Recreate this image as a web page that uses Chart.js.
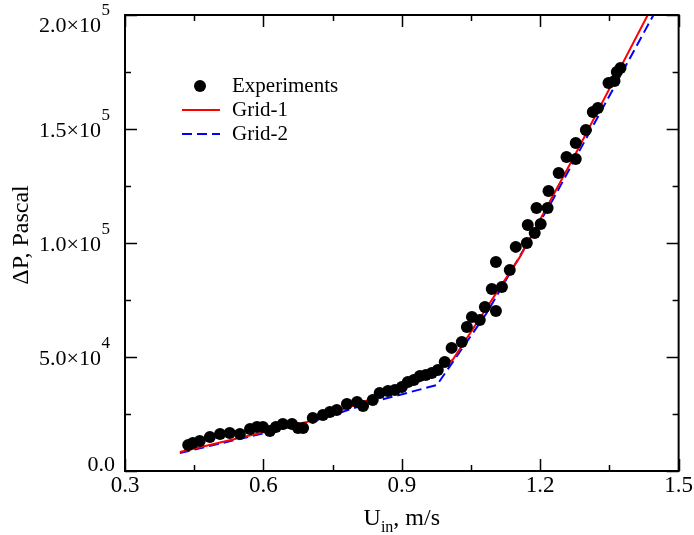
<!DOCTYPE html>
<html>
<head>
<meta charset="utf-8">
<script src="https://cdn.jsdelivr.net/npm/chart.js@4"></script>
<style>
  html, body { margin: 0; padding: 0; background: #fff; }
  canvas { display: block; }
</style>
</head>
<body>
<canvas id="chart" width="694" height="535"></canvas>
<script>
// experiments: inlet velocity (m/s) vs pressure drop (Pa)
const expU = [0.437, 0.447, 0.462, 0.484, 0.506, 0.527, 0.549, 0.571, 0.586, 0.599, 0.614, 0.627, 0.642, 0.662, 0.675, 0.686,
  0.707, 0.729, 0.744, 0.759, 0.781, 0.803, 0.816, 0.837, 0.852, 0.870, 0.885, 0.900, 0.913, 0.926, 0.939, 0.952, 0.965, 0.978,
  0.993, 1.008, 1.030, 1.041, 1.052, 1.069, 1.080, 1.095, 1.104, 1.104, 1.117, 1.134, 1.147, 1.171, 1.173, 1.188, 1.192, 1.201,
  1.216, 1.218, 1.240, 1.257, 1.277, 1.277, 1.299, 1.314, 1.325, 1.348, 1.361, 1.366, 1.374];
const expP = [11400, 12300, 13200, 14900, 16200, 16700, 16200, 18400, 19300, 19300, 17500, 19300, 20600, 20600, 18900, 18900,
  23300, 24600, 25900, 26800, 29400, 30300, 28500, 31100, 34200, 35100, 35500, 36800, 39000, 39900, 41700, 42100, 43000, 44300,
  47800, 54000, 56600, 63200, 67500, 66200, 71900, 79800, 70200, 91700, 80700, 88200, 98300, 100000, 107900, 104400, 115400, 108300,
  115400, 122800, 130700, 137700, 136800, 143900, 149600, 157500, 159200, 170200, 171100, 175000, 176800];

// simulations
const grid1U = [0.419, 0.694, 0.932, 1.010, 1.156, 1.281, 1.450];
const grid1P = [8300, 21500, 38600, 48700, 93900, 140800, 206600];
const grid2U = [0.419, 0.694, 0.852, 0.976, 1.084, 1.227, 1.460];
const grid2P = [7900, 21000, 31100, 37700, 69300, 118900, 205400];

// axes
const xTicks = [0.3, 0.6, 0.9, 1.2, 1.5];
const xMinor = [0.45, 0.75, 1.05, 1.35];
const yTicks = [0, 50000, 100000, 150000, 200000];
const yMinor = [25000, 75000, 125000, 175000];
const yMant = ['0.0', '5.0\u00d710', '1.0\u00d710', '1.5\u00d710', '2.0\u00d710'];
const yExp = ['', '4', '5', '5', '5'];

const FONT = 'Liberation Serif';

function toPoints(xs, ys) {
  return xs.map((x, i) => ({ x: x, y: ys[i] }));
}

const decorations = {
  id: 'decorations',
  afterDraw(chart) {
    const ctx = chart.ctx;
    const a = chart.chartArea;
    const xs = chart.scales.x;
    const ys = chart.scales.y;
    ctx.save();

    // frame + inward ticks on all sides
    ctx.strokeStyle = '#000';
    ctx.lineWidth = 2;
    ctx.strokeRect(a.left, a.top, a.right - a.left, a.bottom - a.top);
    ctx.lineWidth = 1.5;
    ctx.beginPath();
    const xMark = (vals, len) => vals.forEach(v => {
      const px = Math.round(xs.getPixelForValue(v)) + 0.5;
      ctx.moveTo(px, a.bottom); ctx.lineTo(px, a.bottom - len);
      ctx.moveTo(px, a.top); ctx.lineTo(px, a.top + len);
    });
    const yMark = (vals, len) => vals.forEach(v => {
      const py = Math.round(ys.getPixelForValue(v)) + 0.5;
      ctx.moveTo(a.left, py); ctx.lineTo(a.left + len, py);
      ctx.moveTo(a.right, py); ctx.lineTo(a.right - len, py);
    });
    xMark(xTicks, 12); xMark(xMinor, 6);
    yMark(yTicks, 12); yMark(yMinor, 6);
    ctx.stroke();

    // y tick labels with superscript exponents
    ctx.fillStyle = '#000';
    ctx.textBaseline = 'alphabetic';
    ctx.textAlign = 'right';
    yTicks.forEach((v, i) => {
      const cy = Math.min(Math.max(ys.getPixelForValue(v), 24), 463);
      const base = cy + 7.5;
      let right = a.left - 10;
      if (yExp[i]) {
        right = a.left - 15;
        ctx.font = '17px "' + FONT + '"';
        ctx.fillText(yExp[i], right, base - 17);
        right -= ctx.measureText(yExp[i]).width + 0.5;
      }
      ctx.font = '22px "' + FONT + '"';
      ctx.fillText(yMant[i], right, base);
    });

    // y axis title
    ctx.save();
    ctx.translate(22, 235);
    ctx.rotate(-Math.PI / 2);
    ctx.textAlign = 'center';
    ctx.textBaseline = 'middle';
    ctx.font = '24px "' + FONT + '"';
    ctx.fillText('\u0394P, Pascal', 0, 0);
    ctx.restore();

    // x axis title with subscript
    ctx.textAlign = 'left';
    ctx.textBaseline = 'alphabetic';
    ctx.font = '24px "' + FONT + '"';
    const wU = ctx.measureText('U').width;
    const wRest = ctx.measureText(', m/s').width;
    ctx.font = '16px "' + FONT + '"';
    const wSub = ctx.measureText('in').width;
    let tx = (a.left + a.right) / 2 - (wU + wSub + wRest) / 2;
    const tb = 525;
    ctx.font = '24px "' + FONT + '"';
    ctx.fillText('U', tx, tb);
    tx += wU;
    ctx.font = '16px "' + FONT + '"';
    ctx.fillText('in', tx, tb + 7);
    tx += wSub;
    ctx.font = '24px "' + FONT + '"';
    ctx.fillText(', m/s', tx, tb);

    // legend
    ctx.font = '21px "' + FONT + '"';
    ctx.textBaseline = 'middle';
    ctx.beginPath();
    ctx.arc(200, 86, 6, 0, Math.PI * 2);
    ctx.fill();
    ctx.fillText('Experiments', 232, 86);
    ctx.strokeStyle = '#ff0000';
    ctx.lineWidth = 2;
    ctx.beginPath();
    ctx.moveTo(182, 110); ctx.lineTo(220, 110);
    ctx.stroke();
    ctx.fillText('Grid-1', 232, 110);
    ctx.strokeStyle = '#0000ff';
    ctx.setLineDash([10, 5]);
    ctx.beginPath();
    ctx.moveTo(182, 134); ctx.lineTo(220, 134);
    ctx.stroke();
    ctx.setLineDash([]);
    ctx.fillText('Grid-2', 232, 134);

    ctx.restore();
  }
};

new Chart(document.getElementById('chart').getContext('2d'), {
  type: 'scatter',
  data: {
    datasets: [
      {
        label: 'Experiments',
        data: toPoints(expU, expP),
        pointRadius: 6,
        pointHoverRadius: 6,
        pointBackgroundColor: '#000',
        pointBorderWidth: 0,
        showLine: false
      },
      {
        label: 'Grid-1',
        data: toPoints(grid1U, grid1P),
        showLine: true,
        borderColor: '#ff0000',
        borderWidth: 2,
        pointRadius: 0,
        tension: 0
      },
      {
        label: 'Grid-2',
        data: toPoints(grid2U, grid2P),
        showLine: true,
        borderColor: '#0000ff',
        borderWidth: 2,
        borderDash: [10, 5],
        pointRadius: 0,
        tension: 0
      }
    ]
  },
  options: {
    responsive: false,
    animation: false,
    layout: { padding: { left: 0, right: 15, top: 15, bottom: 0 } },
    plugins: { legend: { display: false }, tooltip: { enabled: false } },
    scales: {
      x: {
        type: 'linear',
        min: 0.3,
        max: 1.5,
        grid: { display: false, drawTicks: false, tickLength: 0 },
        border: { display: false },
        afterBuildTicks: scale => { scale.ticks = xTicks.map(v => ({ value: v })); },
        afterFit: scale => { scale.height = 64; },
        ticks: {
          autoSkip: false,
          maxRotation: 0,
          padding: 1,
          color: '#000',
          font: { family: FONT, size: 23 },
          callback: v => v.toFixed(1)
        }
      },
      y: {
        type: 'linear',
        min: 0,
        max: 200000,
        grid: { display: false, drawTicks: false, tickLength: 0 },
        border: { display: false },
        afterBuildTicks: scale => { scale.ticks = yTicks.map(v => ({ value: v })); },
        afterFit: scale => { scale.width = 125; },
        ticks: { display: false },
        title: { display: false }
      }
    }
  },
  plugins: [decorations]
});
</script>
</body>
</html>
